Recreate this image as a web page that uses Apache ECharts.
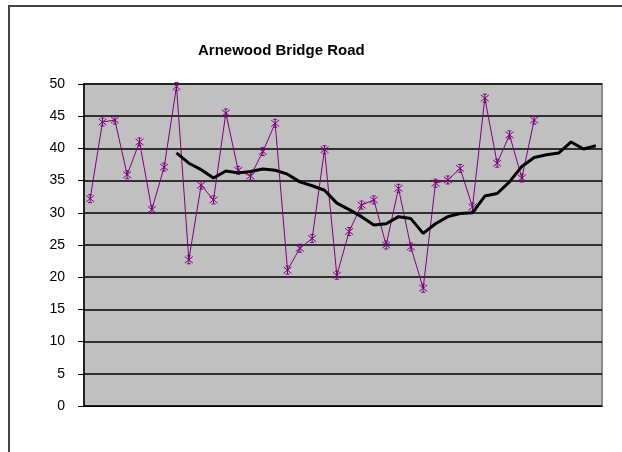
<!DOCTYPE html>
<html>
<head>
<meta charset="utf-8">
<script src="https://cdn.jsdelivr.net/npm/echarts@6/dist/echarts.min.js"></script>
<style>
  html, body { margin: 0; padding: 0; background: #fff; }
  #chart { width: 622px; height: 452px; }
</style>
</head>
<body>
<div id="chart"></div>
<script>
// x categories (readings, no labels shown)
var categories = ['1', '2', '3', '4', '5', '6', '7', '8', '9', '10',
  '11', '12', '13', '14', '15', '16', '17', '18', '19', '20',
  '21', '22', '23', '24', '25', '26', '27', '28', '29', '30',
  '31', '32', '33', '34', '35', '36', '37', '38', '39', '40',
  '41', '42'];
// purple readings
var readings = [32.2, 44.1, 44.4, 35.9, 41.0, 30.5, 37.1, 49.6, 22.7, 34.3,
  32.0, 45.5, 36.6, 35.7, 39.5, 43.9, 21.1, 24.5, 26.0, 39.8,
  20.3, 27.1, 31.2, 32.0, 25.0, 33.8, 24.7, 18.3, 34.6, 35.1,
  36.9, 30.9, 47.8, 37.7, 42.1, 35.4, 44.4];
// black trend line
var trend = ['-', '-', '-', '-', '-', '-', '-', 39.3, 37.7, 36.7,
  35.4, 36.5, 36.2, 36.4, 36.8, 36.6, 36.0, 34.8, 34.2, 33.5,
  31.5, 30.5, 29.4, 28.1, 28.3, 29.4, 29.1, 26.8, 28.3, 29.4,
  29.9, 30.0, 32.6, 33.0, 34.8, 37.2, 38.6, 39.0, 39.3, 41.0,
  39.9, 40.4];

var chart = echarts.init(document.getElementById('chart'));

var option = {
  animation: false,
  title: {
    text: 'Arnewood Bridge Road',
    left: 193,
    top: 38,
    textStyle: {
      fontFamily: 'Liberation Sans, Arial',
      fontSize: 15,
      fontWeight: 'bold',
      color: '#000'
    }
  },
  graphic: [{
    // outer chart frame
    type: 'polyline',
    shape: { points: [[9, 452], [9, 6], [622, 6]] },
    style: { stroke: '#444', lineWidth: 2, fill: null }
  }],
  grid: {
    left: 84,
    right: 20,
    top: 84,
    bottom: 46,
    show: true,
    backgroundColor: '#C0C0C0',
    borderColor: '#8a8a8a',
    borderWidth: 2
  },
  xAxis: {
    type: 'category',
    data: categories,
    boundaryGap: true,
    axisLine: { show: true, lineStyle: { color: '#000', width: 1 } },
    axisTick: { show: false },
    axisLabel: { show: false },
    splitLine: { show: false }
  },
  yAxis: {
    type: 'value',
    min: 0,
    max: 50,
    interval: 5,
    axisLine: { show: true, lineStyle: { color: '#000', width: 1.5 } },
    axisTick: { show: true, length: 6, lineStyle: { color: '#000' } },
    axisLabel: {
      margin: 19,
      fontFamily: 'Liberation Sans, Arial',
      fontSize: 14,
      color: '#000'
    },
    splitLine: { show: true, lineStyle: { color: '#000', width: 1.5 } }
  },
  series: [
    {
      name: 'Readings',
      type: 'line',
      data: readings,
      symbol: 'path://M0,-5L0,5M-4,-4L4,4M-4,4L4,-4M-2,-5L2,-5M-2,5L2,5',
      symbolSize: 8,
      itemStyle: {
        color: 'none',
        borderColor: '#800080',
        borderWidth: 1
      },
      lineStyle: { color: '#800080', width: 1 },
      z: 2
    },
    {
      name: 'Trend',
      type: 'line',
      data: trend,
      showSymbol: false,
      symbol: 'none',
      lineStyle: { color: '#000', width: 3 },
      z: 3
    }
  ]
};

chart.setOption(option);
</script>
</body>
</html>
